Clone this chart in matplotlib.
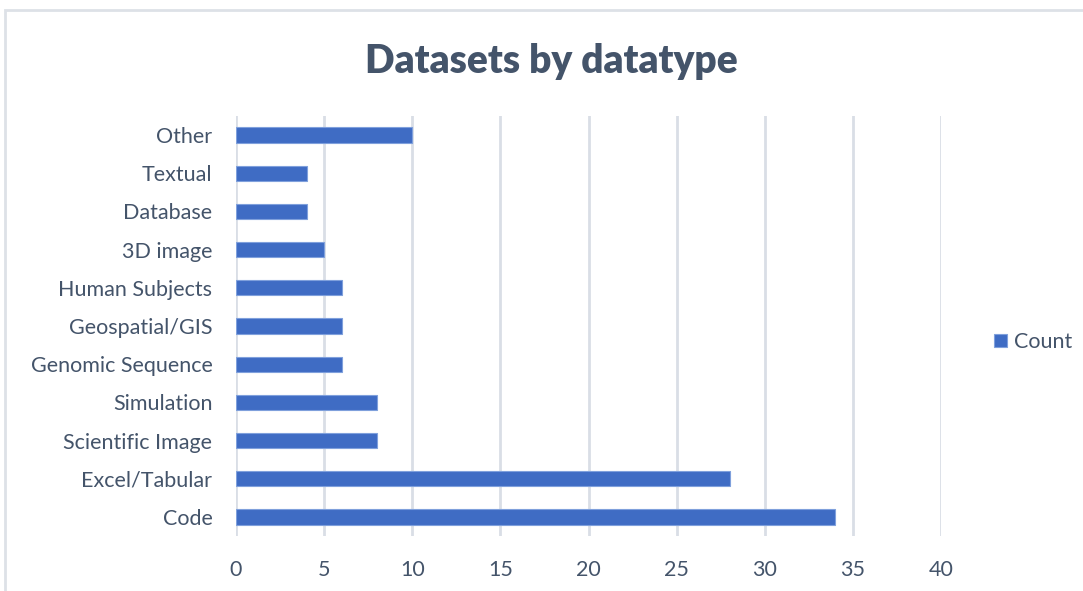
import matplotlib
matplotlib.use('Agg')
import matplotlib.pyplot as plt
from matplotlib.patches import Rectangle

categories = ["Code", "Excel/Tabular", "Scientific Image", "Simulation",
              "Genomic Sequence", "Geospatial/GIS", "Human Subjects",
              "3D image", "Database", "Textual", "Other"]
counts = [34, 28, 8, 8, 6, 6, 6, 5, 4, 4, 10]
xticks = [0, 5, 10, 15, 20, 25, 30, 35, 40]

TEXT = '#44546a'
GRID = '#d9dee6'
BAR = '#3f6cc4'

plt.rcParams['font.family'] = ['Lato', 'DejaVu Sans']

fig = plt.figure(figsize=(10.83, 5.91), dpi=100)
fig.patch.set_facecolor('white')

# chart frame
fig.add_artist(Rectangle((5 / 1083, -0.05), 1.1, 1 - 10 / 591 + 0.05,
                         transform=fig.transFigure, fill=False,
                         edgecolor='#dde1e7', linewidth=2))

ax = fig.add_axes([236 / 1083, 1 - 536 / 591, 705 / 1083, 420 / 591])
ax.barh(range(len(categories)), counts, height=0.4, color=BAR,
        edgecolor='#7fa0dc', linewidth=0.8, label='Count', zorder=3)

ax.set_xlim(0, 40)
ax.set_ylim(-0.5, len(categories) - 0.5)
ax.set_xticks(xticks)
ax.set_yticks(range(len(categories)))
ax.set_yticklabels(categories)
ax.grid(axis='x', color=GRID, linewidth=2, zorder=0)
for s in ax.spines.values():
    s.set_visible(False)
ax.tick_params(axis='both', length=0, labelsize=15.5, colors=TEXT)
ax.tick_params(axis='x', pad=17)
ax.tick_params(axis='y', pad=17)

fig.text(551 / 1083, 1 - 62 / 591, 'Datasets by datatype', ha='center',
         va='center', fontsize=28, fontweight='heavy', color=TEXT)

fig.legend(loc='center left', bbox_to_anchor=(975 / 1083, 1 - 342 / 591),
           frameon=False, fontsize=15.5, handlelength=0.6, handleheight=0.6,
           handletextpad=0.3, labelcolor=TEXT)

fig.savefig('out.png', dpi=100, facecolor='white')
